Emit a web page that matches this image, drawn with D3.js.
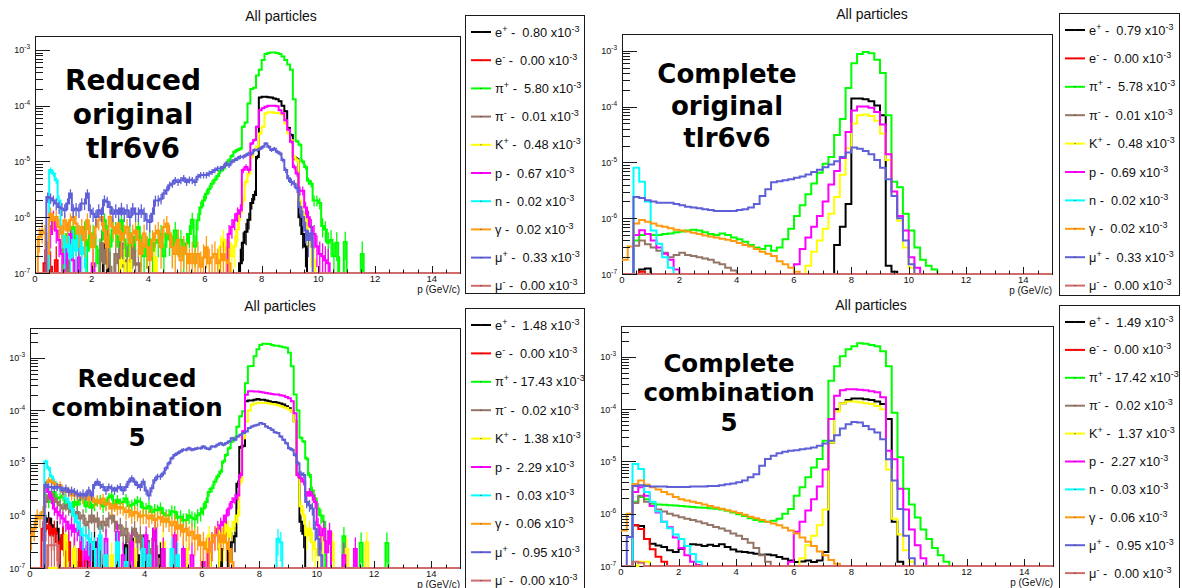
<!DOCTYPE html>
<html>
<head>
<meta charset="utf-8">
<script src="https://cdn.jsdelivr.net/npm/d3@7"></script>
<style>
  body { margin: 0; background: #fff; }
  svg { display: block; }
  .axis-text, .legend-text, .title-text { font-family: "Liberation Sans", Arial, Helvetica, sans-serif; }
  .config-label { font-family: "DejaVu Sans", Verdana, sans-serif; font-weight: bold; }
</style>
</head>
<body>
<svg id="chart" width="1182" height="588"></svg>
<script>
// ---------------------------------------------------------------------------
// Momentum spectra of particles, four configurations.
// Bin contents are given in units of 1e-7.  Each series is a list of
// segments: [start momentum (GeV/c), content of bin 1, content of bin 2, ...].
// Bins not covered by a segment are empty.
// ---------------------------------------------------------------------------
const UNIT = 1e-7;
const P_MAX = 15;

const PARTICLE_NAMES   = ["e", "e", "π", "π", "K", "p", "n", "γ", "μ", "μ"];
const PARTICLE_CHARGES = ["+", "-", "+", "-", "+", "", "", "", "+", "-"];
const PARTICLE_COLORS  = ["#000000", "#ff0000", "#00ff00", "#957565", "#ffff00",
                          "#ff00ff", "#00ffff", "#ff9a10", "#5f5fd8", "#cf6b6b"];

const X_TICKS = [0, 2, 4, 6, 8, 10, 12, 14];
const Y_DECADES = [-7, -6, -5, -4, -3];
const TITLE = "All particles";
const X_TITLE = "p (GeV/c)";

// ---- Reduced original tlr6v6 (0.1 GeV/c bins) ----
const RO_EP  = [[2.4, 2, 1.5], [7.2, 1.5, 3.5, 5.5, 9, 18, 25, 120, 1400, 1450, 1450, 1420, 1400, 1350, 1300, 1200, 1000, 800, 400, 300, 120, 110, 10, 5, 3]];
const RO_EM  = [[0.3, 1.5, 0, 1.3, 0, 1.7]];
const RO_PIP = [[1.0, 3, 5, 2, 6.7, 4, 3, 3.9, 6, 2.5, 5, 5.1, 3, 1.5, 4, 8.8, 5, 3, 6, 5.8, 3, 8.8, 4, 2, 5.1, 3, 4.5, 6.7, 3, 2, 2.9, 4, 2.5, 3.5, 3.9, 5, 2, 5.1, 4, 3, 5.8, 4, 3.9, 2.5, 3.4, 5, 9, 3, 8.8,
                15, 20, 26, 32, 40, 47, 55, 68, 75, 90, 105, 125, 150, 160, 170, 420, 500, 1100, 2000, 2100, 3500, 4400, 6600, 8500, 8800, 9000, 9000, 8800, 8500, 7600, 6600, 5500, 4400, 1300, 230, 200, 100, 80, 45, 40, 20, 20, 18, 7, 6, 3.5, 3.9, 2, 3.5, 1, 0, 3.6],
                [11.5, 2.2]];
const RO_PIM = [[1.1, 1.7], [2.3, 3.4, 1.5, 3.9, 1.3, 0, 2.2, 1.5, 3.4, 1.3, 1.7, 0, 2.9, 1.4, 1.5]];
const RO_KP  = [[3.0, 1.7, 1.5, 0, 1.7], [4.2, 1.9], [6.5, 3, 4, 2.5, 3.5, 2, 3, 6, 12, 20, 43, 61, 121, 160, 183, 318, 420, 730, 760, 760, 750, 740, 730, 700, 480, 320, 240, 121, 105, 20, 12, 10, 5, 3, 1.7]];
const RO_P   = [[0.5, 5, 10, 5.8, 3.9, 2.2, 1.5, 2.9, 5, 1.7, 0, 1.9], [2.0, 1.5],
                [6.8, 5, 6.7, 8.8, 11.6, 13.4, 70, 80, 70, 210, 242, 420, 830, 900, 960, 1000, 1000, 1000, 980, 830, 730, 550, 370, 225, 80, 61, 30, 30, 15, 10, 6.7, 5, 3, 2.2, 2, 1.7, 1.5]];
const RO_N   = [[0.5, 70, 61, 46, 20, 5, 2.9, 4.4, 1.9, 3.9, 2.5, 5, 2.2, 2.9]];
const RO_G   = [[0.1, 4.4, 5.8, 5.1, 2.2, 11.6, 8.8, 10.1, 6.7, 5.1, 8.8, 5.8, 8.8, 10.1, 7.7, 5.1, 6.7, 3.9, 8.8, 5.1, 2.9, 6.7, 8.8, 10.1, 5.8, 2.9, 10.1, 6.7, 5.1, 7.7, 3.9,
                5.1, 6.7, 3.4, 5.1, 5.8, 3.9, 2.2, 5.1, 2.9, 1.7, 3.9, 5.1, 5.8, 2.9, 6.7, 7.7, 5.1, 2.9, 2.2, 3.9, 1.7, 2.9, 2.2, 1.5, 2.2, 1.5, 2.2, 1.3, 1.9, 2.9, 1.5, 1.9, 2.2, 1.5, 1.7, 2.2, 1.7, 1.5]];
const RO_MUP = [[0.4, 23, 22, 20, 17.6, 15.3, 14.3, 13.4, 17.6, 26.6, 13.4, 14.3, 13.4, 17.6, 17.6, 26.6, 13.4, 11.6, 10.1, 13.4, 11.6, 20.2, 19, 15.3, 11.6, 13.4, 11.6, 14.3, 11.6, 13.4, 10.1,
                14.3, 11.6, 11.6, 13.4, 11.6, 8.8, 8.2, 11.6, 20, 20, 21.5, 26.6, 30.6, 37.5, 40, 46, 43, 46, 50, 43, 47, 46, 43, 53, 57, 57, 57, 61, 65, 70,
                75, 75, 80, 92, 86, 99, 106, 113, 121, 121, 130, 139, 139, 160, 160, 170, 183, 210, 183, 160, 170, 150, 139, 106, 70, 50, 43, 40, 33, 15.3, 10.1, 5.8, 3.9, 5.1]];
const RO_MUM = [];

// ---- Complete original tlr6v6 (0.2 GeV/c bins) ----
const CO_EP  = [[0.6, 1.2, 1.25], [7.4, 3.3, 7, 18, 1400, 1400, 1350, 1250, 1050, 700, 1.4, 1.1]];
const CO_EM  = [[0.6, 1.1]];
const CO_PIP = [[0.4, 4, 5, 5.2, 5, 5, 5.2, 5.3, 5.6, 5.8, 6, 6.2, 6, 5.6, 5.2, 5, 5.3, 5, 4.5, 4.2, 3.8, 3.3, 3, 2.8, 3.2, 2.6, 3, 4.2, 6.5, 11, 17, 27, 42, 65, 95,
                125, 310, 600, 2150, 6000, 8800, 9500, 9000, 6900, 4000, 700, 45, 36, 12, 6, 3, 1.8, 1.4, 1.2]];
const CO_PIM = [[0.4, 3.2, 4, 3.4, 3, 2.6, 2.4, 2, 2.2, 2.4, 2.2, 2.1, 2, 1.9, 1.8, 1.6, 1.5, 1.3, 1.15]];
const CO_KP  = [[6.4, 1.4, 2.5, 4, 6.5, 12, 24, 60, 180, 500, 700, 720, 680, 560, 330, 110, 30, 9, 3, 1.3]];
const CO_P   = [[0.4, 5, 6.1, 5.2, 4, 3, 2.3, 1.8, 1.2], [6.0, 1.5, 2.8, 4.5, 7, 11, 20, 40, 70, 120, 350, 850, 1000, 1000, 950, 800, 480, 140, 30, 11, 6, 2, 1.3]];
const CO_N   = [[0.4, 80, 45, 20, 6, 3.5, 2, 1.3]];
const CO_G   = [[0.0, 1.8, 3.1, 8, 9.3, 8.6, 8, 7.3, 7, 6.6, 6.2, 6, 5.8, 5.5, 5.2, 4.9, 4.7, 4.5, 4.3, 4.1, 3.9, 3.6, 3.3, 3.1, 2.8, 2.5, 2.3, 2.1, 1.7, 1.5, 1.3, 1.1]];
const CO_MUP = [[0.4, 24, 23, 21, 20, 19, 19, 19, 18, 17, 16, 15.5, 15, 14.5, 14, 13.5, 13.5, 13.5, 13.5, 14, 14.5, 15.5, 18, 25, 33, 44, 46, 48, 50, 53, 56,
                61, 67, 74, 82, 92, 105, 125, 150, 185, 175, 160, 140, 110, 80, 50, 25, 10, 4, 1.5]];
const CO_MUM = [];

// ---- Reduced combination 5 (0.1 GeV/c bins) ----
const RC_EP  = [[0.5, 7.6, 8.8, 6.5, 4.2, 5.6, 2.3, 4.2, 1.75, 0, 0, 2.3, 0, 1.3], [2.2, 3.1, 0, 1.5],
                [3.0, 1.75, 0, 0, 2.7, 0, 3.6, 0, 1.75, 0, 2.7, 0, 2, 0, 5.6, 0, 1.75], [5.0, 1.5],
                [6.2, 1.75, 0, 0, 0, 2.3, 0, 0, 2.3, 3.1, 4, 40, 200, 210, 1490, 1550, 1550, 1600, 1650, 1600, 1600, 1550, 1500, 1450, 1450, 1400, 1350, 1300, 1200, 1100, 960, 620, 60, 7.6, 4.5]];
const RC_EM  = [[0.4, 5.6, 5.6, 6.5, 4.2, 5.6, 3.1, 2.3, 4.2, 1.75, 3.1, 0, 1.5, 0, 2.3, 0, 1.5, 1.3], [2.4, 1.75]];
const RC_PIP = [[0.5, 24, 18, 24, 28, 21, 22, 24, 17, 15, 14, 18, 16, 20, 21, 15, 18, 14, 16, 19, 20, 15, 17, 22, 24, 16, 20, 17, 18, 21, 15,
                16, 17, 19, 18, 14, 13.6, 15, 11.7, 13, 12.5, 14, 11, 10, 10.1, 12, 11.7, 9, 9.5, 8, 8.2, 10, 9, 8.5, 10.1, 11, 13.6, 18, 28, 33, 44,
                55, 68, 106, 142, 191, 256, 300, 490, 770, 960, 3300, 6900, 7000, 10700, 14500, 17500, 18500, 18500, 18300, 17500,
                17000, 17000, 16500, 16000, 15500, 12500, 6900, 2000, 1000, 300, 256, 122, 59, 30, 21, 13.6, 10, 7.6],
                [10.9, 4], [11.5, 3], [12.4, 3]];
const RC_PIM = [[0.5, 18, 24, 26, 21, 18, 15.7, 13.6, 16, 13.6, 11.7, 10, 11.7, 8.8, 10, 6.5, 7.6, 10, 7.6, 8.8, 5.6, 7.6, 6.5, 8.8, 10, 7.6, 5.6, 6.5, 4.2, 5.6, 3.1,
                4.2, 5.6, 3.1, 4.2, 2.3, 3.1, 1.75, 2.3, 0, 1.5, 0, 2], [5.0, 1.3]];
const RC_KP  = [[1.2, 4.2, 0, 0, 2.3], [2.8, 1.75], [3.6, 2.3], [4.6, 3.1, 0, 0, 0, 4.2, 0, 0, 0, 2.3],
                [6.2, 4.2, 0, 0, 0, 5.6, 3, 7.6, 4, 5.6, 7.6, 10, 44, 296, 617, 1000, 1280, 1350, 1400, 1400, 1400, 1380, 1350, 1330, 1300, 1250, 1200, 1150, 1110, 1030, 957, 617, 59, 15, 10, 4.2, 5.6, 3.1, 2.3, 1.75, 4.2],
                [10.5, 3.1], [11.0, 2.3], [11.7, 3.1]];
const RC_P   = [[0.5, 33, 28, 21, 13.6, 11.7, 10, 8.8, 7.6, 5.6, 6.5, 4.9, 5.6, 4.2, 2.3, 1.5, 3.1, 0, 0, 2.3, 0, 0, 3.6],
                [3.0, 4.9, 0, 1.75, 0, 0, 3.1], [4.0, 4.2, 0, 0, 5.6, 0, 0, 2.3], [5.0, 4.2, 0, 0, 2.3, 0, 0, 1.75],
                [6.0, 1.3, 0, 2.3, 3.1, 4.2, 5.6, 6.5, 7.6, 10, 13.6, 18, 21, 24, 59, 400, 1990, 2310, 2310, 2300, 2300, 2250, 2200, 2150, 2100, 2050, 2000, 2000, 1950, 1900, 1800, 1700, 1490, 880, 59, 51, 44, 24, 28, 24, 18, 6.5, 4.2, 5.6, 2, 5],
                [10.9, 1.75], [11.3, 2.3]];
const RC_N   = [[0.5, 106, 79, 55, 44, 35, 33, 28, 21, 18, 13.6, 10, 7.6, 5.6, 4.2, 4.2, 3.6, 3.1, 2.3, 0, 4.2, 0, 1.75],
                [3.0, 3.1, 0, 0, 1.3], [3.9, 2.3, 0, 1.75], [4.9, 2.3, 0, 1.75], [8.6, 3.6, 3.1]];
const RC_G   = [[0.0, 4.2, 5.6, 10, 8.8, 11.7, 38, 47, 44, 41, 35, 38, 28, 28, 30, 24, 26, 24, 23, 21, 24, 20, 23, 18, 20, 17, 21, 16, 17, 13.6, 15.7,
                13.6, 14.5, 13.6, 11.7, 12.5, 10, 11.7, 11, 9.5, 10, 10, 8.8, 10, 8.2, 8.8, 9.4, 7.6, 8.8, 7.6, 6.5, 7.6, 5.6, 6.5, 4.9, 5.6, 4.2, 4.9, 3.6, 4.2, 2.7,
                3.1, 2.3, 2, 3.1, 4.2, 4.2, 3.1, 4.2, 3.1, 2.3, 1.3]];
const RC_MUP = [[0.5, 38, 35, 35, 33, 35, 34, 30, 33, 28, 30, 28, 26, 24, 26, 24, 30, 24, 38, 44, 38, 35, 30, 35, 33, 30, 33, 35, 30, 35, 44,
                51, 44, 38, 35, 44, 30, 24, 33, 47, 55, 55, 63, 79, 99, 123, 142, 153, 165, 178, 178, 191, 178, 185, 191, 191, 205, 191, 185, 205, 205,
                221, 238, 221, 238, 256, 296, 275, 318, 343, 370, 397, 460, 495, 515, 533, 575, 550, 495, 460, 430,
                385, 370, 318, 275, 238, 191, 178, 142, 99, 63, 59, 18, 15.7, 13.6, 5.6, 3.6, 1.75]];
const RC_MUM = [[0.6, 2.7, 2.7, 2.7, 2.7]];

// ---- Complete combination 5 (0.2 GeV/c bins) ----
const CC_EP  = [[0.4, 6, 5.8, 3.3, 2.66, 2.47, 2.3, 2, 1.85, 2.14, 2.4, 2.6, 2.55, 2.4, 2.55, 2.4, 2.6, 2.3, 2.07, 1.9, 1.85,
                1.8, 1.72, 1.64, 1.66, 1.6, 1.48, 1.38, 1.28, 1.19, 1.22, 1.28, 1.19, 1.28, 1.85, 230, 1000, 1300, 1500, 1600, 1600, 1550, 1500, 1400, 1250, 650, 7, 1.2]];
const CC_EM  = [[0.4, 6, 5.1, 3.3, 2.1, 1.5, 1.2]];
const CC_PIP = [[0.4, 17, 21, 19, 15.5, 15, 14.8, 14.5, 14.3, 14, 13.8, 13.5, 13.2, 13, 12.7, 12.4, 12, 11.4, 10.6, 9.8, 9, 8.2, 7.6, 7.1, 7, 7.3, 8,
                10, 12.3, 22, 32, 50, 77, 111, 250, 3500, 6600, 10300, 14000, 16000, 18300, 17800, 16800, 15900, 12800, 6600, 850, 120, 30, 15, 8.5, 5, 3.3, 2.2, 1.6, 1.2]];
const CC_PIM = [[0.4, 16, 22, 17, 14, 12, 11, 10, 9.2, 8.6, 8, 7.6, 7.1, 6.6, 6.1, 5.6, 5.2, 4.7, 4.2, 3.8, 3.3, 2.8, 2.2, 1.6, 1.2]];
const CC_KP  = [[0.6, 1.2, 1.2], [6.2, 1.4, 2.5, 3.8, 6, 12, 230, 900, 1300, 1400, 1400, 1350, 1300, 1250, 1150, 1000, 70, 8, 4, 2, 1.2]];
const CC_P   = [[0.4, 26, 32, 22, 14, 10.5, 7, 5.5, 3.5, 2.2, 1.6, 1.2, 1.05],
                [5.8, 1.2, 4.5, 7, 11.5, 19, 33, 70, 650, 1800, 2300, 2400, 2400, 2350, 2300, 2200, 2100, 1700, 160, 110, 30, 12, 5, 2.5, 1.4]];
const CC_N   = [[0.4, 89, 72, 26, 17, 11, 7, 5.3, 4, 3.3, 2.4, 1.7, 1.2]];
const CC_G   = [[0.0, 4.8, 10, 37, 43, 36, 32, 29, 26, 23.5, 21, 19, 18, 17, 16, 15, 14, 13.2, 12.4, 11.6, 11, 10.3, 9.6, 8.8, 8.2, 7.6, 7, 6.5, 6, 5.4, 4.8,
                4.2, 3.5, 2.9, 2.4, 1.9, 1.6, 1.3, 1.1]];
const CC_MUP = [[0.2, 3.6, 34, 35, 34, 33, 33, 33, 32.5, 32.5, 32.5, 32.5, 33, 33, 33, 34, 34, 35, 36.6, 38, 40, 43, 50, 57, 83, 111,
                128, 144, 153, 160, 164, 172, 177, 185, 199, 220, 248, 317, 425, 515, 570, 555, 477, 413, 356, 266, 110, 43, 12.3, 3.8, 1.4]];
const CC_MUM = [[0.4, 1.2, 1.15]];

// Legend integrals (x10^-3)
const LEGEND_RO = ["0.80", "0.00", "5.80", "0.01", "0.48", "0.67", "0.02", "0.02", "0.33", "0.00"];
const LEGEND_CO = ["0.79", "0.00", "5.78", "0.01", "0.48", "0.69", "0.02", "0.02", "0.33", "0.00"];
const LEGEND_RC = ["1.48", "0.00", "17.43", "0.02", "1.38", "2.29", "0.03", "0.06", "0.95", "0.00"];
const LEGEND_CC = ["1.49", "0.00", "17.42", "0.02", "1.37", "2.27", "0.03", "0.06", "0.95", "0.00"];

const LABEL_RO = ["Reduced", "original", "tlr6v6"];
const LABEL_CO = ["Complete", "original", "tlr6v6"];
const LABEL_RC = ["Reduced", "combination", "5"];
const LABEL_CC = ["Complete", "combination", "5"];

const BIN_WIDTHS = [0.1, 0.2, 0.1, 0.2];
const Y_MAX = [1.78e-3, 2.0e-3, 3.7e-3, 3.9e-3];
const Y_MIN = 1e-7;

// ---------------------------------------------------------------------------
const panels = [
  { series: [RO_EP, RO_EM, RO_PIP, RO_PIM, RO_KP, RO_P, RO_N, RO_G, RO_MUP, RO_MUM], legend: LEGEND_RO, label: LABEL_RO, errors: true },
  { series: [CO_EP, CO_EM, CO_PIP, CO_PIM, CO_KP, CO_P, CO_N, CO_G, CO_MUP, CO_MUM], legend: LEGEND_CO, label: LABEL_CO, errors: false },
  { series: [RC_EP, RC_EM, RC_PIP, RC_PIM, RC_KP, RC_P, RC_N, RC_G, RC_MUP, RC_MUM], legend: LEGEND_RC, label: LABEL_RC, errors: true },
  { series: [CC_EP, CC_EM, CC_PIP, CC_PIM, CC_KP, CC_P, CC_N, CC_G, CC_MUP, CC_MUM], legend: LEGEND_CC, label: LABEL_CC, errors: false }
].map((p, i) => Object.assign(p, { binWidth: BIN_WIDTHS[i], yMax: Y_MAX[i] }));

// Page layout of each pad
const layout = [
  { x0: 35,  x1: 460,  y0: 36,  y1: 273, titleX: 281, titleY: 21,
    leg: { x: 465, y: 15, w: 119, h: 278, dy: 28.2 },
    lab: { x: 133, ys: [90, 124, 158], size: 28 } },
  { x0: 622, x1: 1052, y0: 34,  y1: 274, titleX: 872, titleY: 19,
    leg: { x: 1059, y: 13, w: 120, h: 282, dy: 28.4 },
    lab: { x: 727, ys: [83, 115, 147], size: 26 } },
  { x0: 30,  x1: 460,  y0: 328, y1: 568, titleX: 280, titleY: 311,
    leg: { x: 465, y: 308, w: 119, h: 290, dy: 28.4 },
    lab: { x: 137, ys: [387, 416, 446], size: 24.5 } },
  { x0: 621, x1: 1053, y0: 326, y1: 566, titleX: 871, titleY: 310,
    leg: { x: 1059, y: 305, w: 120, h: 290, dy: 27.9 },
    lab: { x: 729, ys: [372, 401, 431], size: 24.5 } }
];

const svg = d3.select("#chart");
const defs = svg.append("defs");

function expand(segments, w) {
  const n = Math.round(P_MAX / w);
  const c = new Array(n).fill(0);
  segments.forEach(seg => {
    const i0 = Math.round(seg[0] / w);
    for (let k = 1; k < seg.length; k++) {
      if (i0 + k - 1 < n) c[i0 + k - 1] = seg[k];
    }
  });
  return c;
}

panels.forEach((panel, pi) => {
  const L = layout[pi];
  const g = svg.append("g");
  const x = d3.scaleLinear().domain([0, P_MAX]).range([L.x0, L.x1]);
  const y = d3.scaleLog().domain([Y_MIN, panel.yMax]).range([L.y1, L.y0]);

  // frame
  g.append("rect")
    .attr("x", L.x0 + 0.5).attr("y", L.y0 + 0.5)
    .attr("width", L.x1 - L.x0).attr("height", L.y1 - L.y0)
    .attr("fill", "#fff").attr("stroke", "#1a1a1a").attr("stroke-width", 1);

  // title
  g.append("text").attr("class", "title-text")
    .attr("x", L.titleX).attr("y", L.titleY)
    .attr("text-anchor", "middle").attr("font-size", 14).attr("fill", "#111")
    .text(TITLE);

  // clip
  const clipId = "clip" + pi;
  defs.append("clipPath").attr("id", clipId).append("rect")
    .attr("x", L.x0).attr("y", L.y0 - 1)
    .attr("width", L.x1 - L.x0 + 1).attr("height", L.y1 - L.y0 + 2);
  const plot = g.append("g").attr("clip-path", `url(#${clipId})`);

  const w = panel.binWidth;
  const line = d3.line().x(d => d[0]).y(d => d[1]);
  const yv = v => y(Math.max(v * UNIT, Y_MIN));

  panel.series.forEach((segs, si) => {
    const c = expand(segs, w);
    const pts = [];
    c.forEach((v, i) => {
      pts.push([x(i * w), yv(v)]);
      pts.push([x((i + 1) * w), yv(v)]);
    });
    plot.append("path").attr("d", line(pts))
      .attr("fill", "none").attr("stroke", PARTICLE_COLORS[si])
      .attr("stroke-width", 2).attr("stroke-linejoin", "miter");

    if (panel.errors) {
      // statistical error bars: one entry corresponds to one unit
      c.forEach((v, i) => {
        if (v <= 0) return;
        const s = Math.sqrt(v);
        const xc = x((i + 0.5) * w);
        plot.append("line")
          .attr("x1", xc).attr("x2", xc)
          .attr("y1", yv(Math.max(v - s, 0))).attr("y2", yv(v + s))
          .attr("stroke", PARTICLE_COLORS[si]).attr("stroke-width", 1.3);
      });
    }
  });

  // y axis ticks (log)
  const axis = g.append("g").attr("stroke", "#1a1a1a").attr("stroke-width", 1);
  Y_DECADES.forEach(e => {
    for (let m = 1; m <= 9; m++) {
      const v = m * Math.pow(10, e);
      if (v > panel.yMax * 1.0001 || v < Y_MIN * 0.9999) continue;
      const yy = Math.round(y(v)) + 0.5;
      axis.append("line").attr("x1", L.x0).attr("x2", L.x0 + (m === 1 ? 15 : 8))
        .attr("y1", yy).attr("y2", yy);
    }
    const v = Math.pow(10, e);
    if (v <= panel.yMax) {
      const t = g.append("text").attr("class", "axis-text")
        .attr("x", L.x0 - 5).attr("y", y(v) + 3.5)
        .attr("text-anchor", "end").attr("font-size", 9).attr("fill", "#111");
      t.append("tspan").text("10");
      t.append("tspan").attr("dy", -4).attr("font-size", 6.5).text(String(e));
    }
  });

  // x axis ticks
  for (let k = 0; k < P_MAX * 2; k++) {
    const p = k / 2;
    const major = X_TICKS.includes(p);
    const xx = Math.round(x(p)) + 0.5;
    axis.append("line").attr("x1", xx).attr("x2", xx)
      .attr("y1", L.y1).attr("y2", L.y1 - (major ? 7 : 3.5));
  }
  X_TICKS.forEach(p => {
    g.append("text").attr("class", "axis-text")
      .attr("x", x(p)).attr("y", L.y1 + 8.5)
      .attr("text-anchor", "middle").attr("font-size", 9.5).attr("fill", "#111")
      .text(p);
  });
  g.append("text").attr("class", "axis-text")
    .attr("x", L.x1).attr("y", L.y1 + 19.5)
    .attr("text-anchor", "end").attr("font-size", 10).attr("fill", "#111")
    .text(X_TITLE);

  // configuration label
  const lab = g.append("text").attr("class", "config-label")
    .attr("text-anchor", "middle")
    .attr("font-size", L.lab.size).attr("fill", "#000");
  panel.label.forEach((s, i) => {
    lab.append("tspan").attr("x", L.lab.x).attr("y", L.lab.ys[i]).text(s);
  });

  // legend
  const lg = svg.append("g");
  lg.append("rect").attr("x", L.leg.x + 0.5).attr("y", L.leg.y + 0.5)
    .attr("width", L.leg.w).attr("height", L.leg.h)
    .attr("fill", "#fff").attr("stroke", "#1a1a1a").attr("stroke-width", 1);
  panel.legend.forEach((val, i) => {
    const ry = L.leg.y + 17 + i * L.leg.dy;
    lg.append("line").attr("x1", L.leg.x + 6).attr("x2", L.leg.x + 26)
      .attr("y1", ry).attr("y2", ry)
      .attr("stroke", PARTICLE_COLORS[i]).attr("stroke-width", 2);
    lg.append("rect").attr("x", L.leg.x + 15.5).attr("y", ry - 0.5)
      .attr("width", 1).attr("height", 1).attr("fill", "#333");
    const t = lg.append("text").attr("class", "legend-text")
      .attr("x", L.leg.x + 30).attr("y", ry + 4.5)
      .attr("font-size", 12.8).attr("fill", "#111").style("white-space", "pre");
    t.append("tspan").text(PARTICLE_NAMES[i]);
    let shift = 0;
    if (PARTICLE_CHARGES[i]) {
      t.append("tspan").attr("dy", -5).attr("font-size", 9).text(PARTICLE_CHARGES[i]);
      shift = 5;
    }
    const num = val.length < 5 ? " " + val : val;
    t.append("tspan").attr("dy", shift).text(" - " + num + " x10");
    t.append("tspan").attr("dy", -5).attr("font-size", 9).text("-3");
  });
});
</script>
</body>
</html>
